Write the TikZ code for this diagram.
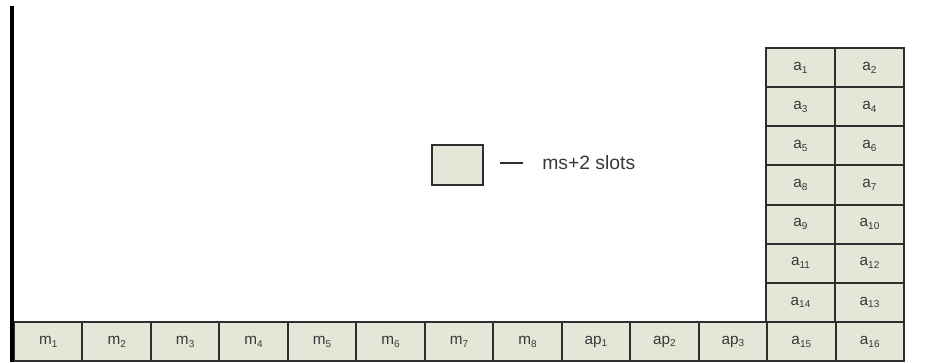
\documentclass[tikz,border=0pt]{standalone}
\usepackage{fontspec}
\setmainfont{Liberation Sans}
\definecolor{cellfill}{HTML}{E6E6D8}
\definecolor{cellline}{HTML}{2E2E2E}
\definecolor{txt}{HTML}{383838}
\newcommand{\sbx}[1]{\raisebox{-0.35ex}{\fontsize{7.5}{8}\selectfont #1}}
\begin{document}
\begin{tikzpicture}[x=0.75pt,y=-0.75pt,
  cell/.style={draw=cellline,line width=1.5pt,fill=cellfill},
  lbl/.style={text=txt,font=\fontsize{11.5}{13}\selectfont,inner sep=0pt}]
\useasboundingbox (0,0) rectangle (945,362);
% bottom row
\def\cw{68.46}
\foreach \i/\t in {0/m\sbx{1},1/m\sbx{2},2/m\sbx{3},3/m\sbx{4},4/m\sbx{5},5/m\sbx{6},6/m\sbx{7},7/m\sbx{8},8/ap\sbx{1},9/ap\sbx{2},10/ap\sbx{3},11/a\sbx{15},12/a\sbx{16}}{
  \draw[cell] ({14+\i*\cw},322) rectangle ({14+(\i+1)*\cw},361);
  \node[lbl] (b\i) at ({14+(\i+0.5)*\cw},341.5) {\t};
}
% right stack
\foreach \r/\ta/\tb in {0/1/2,1/3/4,2/5/6,3/8/7,4/9/10,5/11/12,6/14/13}{
  \draw[cell] (766,{48+\r*39.14}) rectangle (835,{48+(\r+1)*39.14});
  \draw[cell] (835,{48+\r*39.14}) rectangle (904,{48+(\r+1)*39.14});
  \node[lbl] (sa\r) at (800.5,{48+(\r+0.5)*39.14}) {a\sbx{\ta}};
  \node[lbl] (sb\r) at (869.5,{48+(\r+0.5)*39.14}) {a\sbx{\tb}};
}
% axis
\coordinate (axtop) at (12,6);
\coordinate (axbot) at (12,362);
\draw[black,line width=2.4pt] (axtop) -- (axbot);
% legend
\node[cell,minimum width=51*0.75pt,minimum height=40*0.75pt,inner sep=0pt] (leg) at (457.5,165) {};
\coordinate (d1) at (500,163);
\coordinate (d2) at (523,163);
\draw[cellline,line width=2pt] (d1) -- (d2);
\node[lbl,anchor=west,font=\fontsize{14.5}{16}\selectfont] (legtxt) at (542,163) {ms+2 slots};
\end{tikzpicture}
\end{document}
